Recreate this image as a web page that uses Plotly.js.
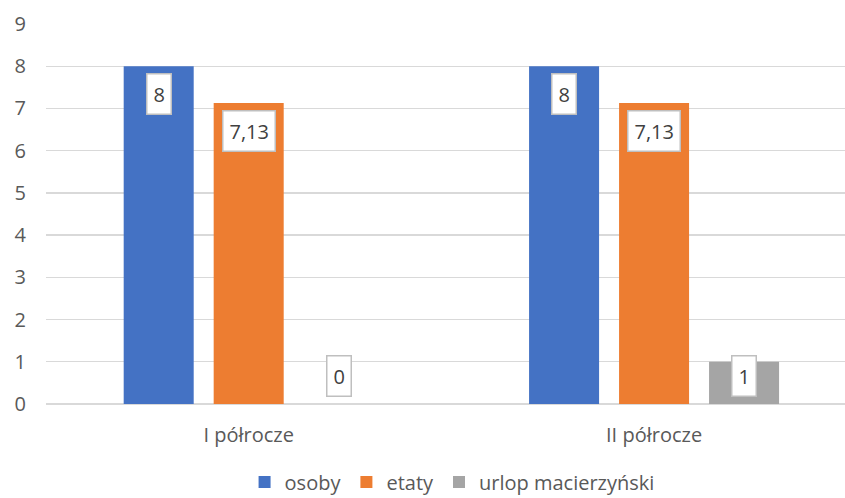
<!DOCTYPE html>
<html>
<head>
<meta charset="utf-8">
<script src="https://cdn.plot.ly/plotly-3.0.1.min.js"></script>
<style>html,body{margin:0;padding:0;background:#fff;}#chart{width:845px;height:498px;}</style>
</head>
<body>
<div id="chart"></div>
<script>
const categories = ["I półrocze", "II półrocze"];
const seriesNames = ["osoby", "etaty", "urlop macierzyński"];
const osoby = [8, 8];
const etaty = [7.13, 7.13];
const urlop = [0, 1];
const labelsOsoby = ["8", "8"];
const labelsEtaty = ["7,13", "7,13"];
const labelsUrlop = ["0", "1"];
const yTicks = [0, 1, 2, 3, 4, 5, 6, 7, 8, 9];

const colors = ["#4472C4", "#ED7D31", "#A5A5A5"];
const seriesValues = [osoby, etaty, urlop];
const seriesLabels = [labelsOsoby, labelsEtaty, labelsUrlop];
const FONT = "Open Sans, sans-serif";
const bargap = 0.334;
const nSeries = seriesValues.length;
const slot = (1 - bargap) / nSeries;

const traces = seriesValues.map((vals, i) => ({
  type: "bar",
  name: seriesNames[i],
  x: categories,
  y: vals,
  marker: {color: colors[i], line: {width: 0}},
  hoverinfo: "none"
}));

const annotations = [];
seriesValues.forEach((vals, i) => {
  vals.forEach((v, j) => {
    const small = v < 1.2;
    annotations.push({
      xref: "x", yref: "y",
      x: j + (i - (nSeries - 1) / 2) * slot,
      y: small ? 0 : v,
      yanchor: small ? "bottom" : "top",
      yshift: small ? 7 : -7,
      xanchor: "center",
      text: seriesLabels[i][j],
      showarrow: false,
      bgcolor: "#ffffff",
      bordercolor: "#BFBFBF",
      borderwidth: 1.5,
      borderpad: 6,
      font: {family: FONT, size: 20, color: "#404040"}
    });
  });
});

const layout = {
  width: 845, height: 498,
  margin: {l: 46, r: 0, t: 24, b: 94},
  paper_bgcolor: "#ffffff",
  plot_bgcolor: "#ffffff",
  barmode: "group",
  bargap: bargap,
  bargroupgap: 0.222,
  showlegend: true,
  legend: {
    orientation: "h",
    xref: "container", yref: "container",
    x: 0.535, xanchor: "center",
    y: 0.032, yanchor: "middle",
    font: {family: FONT, size: 20, color: "#595959"},
    itemwidth: 20,
    tracegroupgap: 0
  },
  xaxis: {
    type: "category",
    range: [-0.5, 1.471],
    showgrid: false,
    showline: false,
    zeroline: false,
    ticks: "",
    ticklabelstandoff: 17,
    tickfont: {family: FONT, size: 20, color: "#595959"}
  },
  yaxis: {
    range: [0, 9],
    tickvals: yTicks,
    ticktext: yTicks.map(String),
    showgrid: true,
    gridcolor: "#D9D9D9",
    gridwidth: 1.3,
    zeroline: true,
    zerolinecolor: "#D9D9D9",
    zerolinewidth: 1.3,
    showline: false,
    ticks: "",
    ticklabelstandoff: 19,
    tickfont: {family: FONT, size: 20, color: "#595959"}
  },
  annotations: annotations
};

Plotly.newPlot("chart", traces, layout, {displayModeBar: false, staticPlot: true});
</script>
</body>
</html>
